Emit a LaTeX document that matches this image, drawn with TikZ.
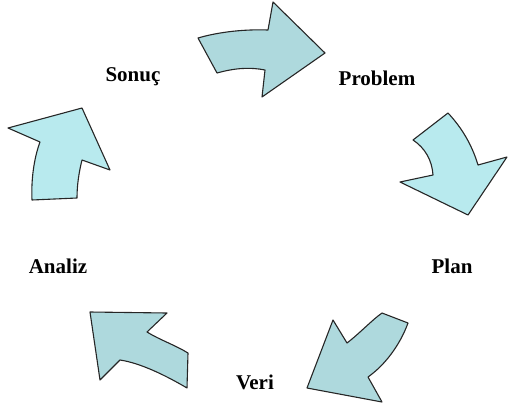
\documentclass[tikz,border=0pt]{standalone}
\usepackage{fontspec}
\setmainfont{Liberation Serif}
\definecolor{fillA}{HTML}{AED9DD}
\definecolor{fillB}{HTML}{B8EAEE}
\tikzset{
  arr/.style={draw=black!85, line width=1.1pt, line join=round},
  lbl/.style={font=\fontsize{21}{24}\selectfont\bfseries, inner sep=0pt}
}
\begin{document}
\begin{tikzpicture}[x=1pt,y=-1pt]
\useasboundingbox (0,0) rectangle (508,407);
% arrow 1 (top)
\filldraw[arr, fill=fillA] (198,38) .. controls (215,33) and (240,29) .. (268,30) -- (273,2) -- (325,53) -- (262,97) -- (265,70) .. controls (250,67) and (235,68) .. (217,73) -- cycle;
% arrow 2 (right top)
\filldraw[arr, fill=fillB] (413,140) -- (448,113) .. controls (462,128) and (472,145) .. (478,165) -- (507,157) -- (468,215) -- (400,182) -- (433,175) .. controls (432,160) and (425,148) .. cycle;
% arrow 3 (right bottom)
\filldraw[arr, fill=fillA] (382,313) -- (408,323) .. controls (400,345) and (385,365) .. (368,377) -- (382,402) -- (307,388) -- (333,320) -- (347,343) .. controls (360,333) and (372,320) .. cycle;
% arrow 4 (left bottom)
\filldraw[arr, fill=fillA] (90,312) -- (167,313) -- (147,332) .. controls (160,340) and (175,345) .. (188,353) -- (187,388) .. controls (165,375) and (140,363) .. (120,360) -- (100,380) -- cycle;
% arrow 5 (left top)
\filldraw[arr, fill=fillB] (8,128) -- (82,108) -- (110,170) -- (82,160) .. controls (79,172) and (77,185) .. (77,198) -- (32,200) .. controls (31,180) and (34,158) .. (40,142) -- cycle;
% labels
\node[lbl] (sonuc) at (133,77) {Sonuç};
\node[lbl] (problem) at (377,78) {Problem};
\node[lbl] (plan) at (452,266) {Plan};
\node[lbl] (analiz) at (58,266) {Analiz};
\node[lbl] (veri) at (255,382) {Veri};
\end{tikzpicture}
\end{document}
